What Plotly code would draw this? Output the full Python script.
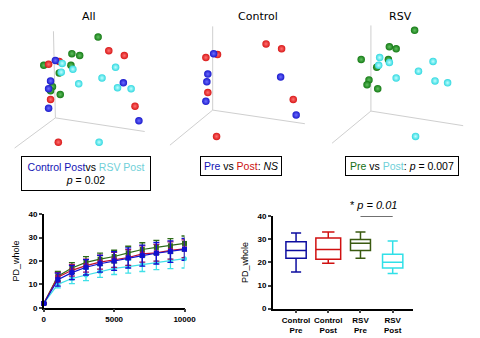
import plotly.graph_objects as go

W, H = 480, 338

# ---------- PCoA projected coordinates (panel-local units) ----------
all_green_x = [99, 72, 80, 43, 71, 59, 52, 50, 60]
all_green_y = [34, 51, 53, 63, 63, 71, 85, 89, 93]
all_red_x = [110, 126, 48, 59, 50, 137, 58]
all_red_y = [48, 53, 62, 59, 98, 105, 142]
all_blue_x = [55, 50, 48, 48, 125, 141]
all_blue_y = [58, 79, 87, 107, 81, 120]
all_cyan_x = [62, 73, 61, 117, 103, 79, 119, 133, 100]
all_cyan_y = [61, 67, 70, 65, 76, 82, 86, 87, 142]

ctl_red_x = [112, 128, 50, 62, 52, 140, 61]
ctl_red_y = [41, 46, 55, 52, 91, 98, 136]
ctl_blue_x = [58, 52, 51, 50, 127, 143]
ctl_blue_y = [51, 72, 80, 100, 75, 114]

rsv_green_x = [105, 79, 86, 50, 78, 66, 58, 56, 67]
rsv_green_y = [27, 44, 46, 57, 57, 65, 78, 83, 87]
rsv_cyan_x = [69, 79, 68, 124, 109, 86, 126, 139, 106]
rsv_cyan_y = [55, 60, 63, 59, 69, 76, 79, 81, 136]

panel_titles = ["All", "Control", "RSV"]

# ---------- rarefaction curves ----------
depth = [0, 1000, 2000, 3000, 4000, 5000, 6000, 7000, 8000, 9000, 10000]
rsv_pre = [1.8, 13.5, 17.0, 19.4, 20.8, 21.9, 23.5, 24.9, 25.8, 26.5, 27.5]
rsv_pre_err = [0.3, 2.0, 2.3, 2.5, 2.6, 2.7, 2.8, 2.9, 3.0, 3.1, 3.2]
ctl_post = [1.8, 13.0, 16.0, 18.0, 19.5, 20.5, 21.5, 23.0, 23.5, 24.5, 25.2]
ctl_post_err = [0.3, 2.0, 2.5, 2.8, 3.0, 3.2, 3.4, 3.5, 3.6, 3.7, 3.8]
ctl_pre = [1.8, 12.0, 15.0, 17.3, 18.8, 20.0, 21.3, 22.3, 23.3, 24.0, 25.0]
ctl_pre_err = [0.3, 2.8, 3.0, 3.3, 3.6, 4.0, 4.3, 4.5, 4.6, 4.6, 4.7]
rsv_post = [1.8, 10.0, 12.5, 14.0, 15.5, 16.8, 17.6, 18.5, 19.5, 20.3, 21.0]
rsv_post_err = [0.3, 1.5, 2.2, 2.4, 2.5, 2.6, 2.8, 3.0, 3.2, 3.6, 4.0]
line_xticks = [0, 5000, 10000]
line_xtext = ["0", "5000", "10000"]

# ---------- box plot summary ----------
box_cats = ["Control<br>Pre", "Control<br>Post", "RSV<br>Pre", "RSV<br>Post"]
box_low = [15.9, 19.7, 21.8, 15.2]
box_q1 = [21.8, 21.4, 25.2, 17.6]
box_med = [25.2, 25.6, 28.3, 20.1]
box_q3 = [28.9, 30.6, 29.9, 23.5]
box_high = [32.7, 33.2, 33.2, 29.3]
yticks = [0, 10, 20, 30, 40]

BLUE, RED, GREEN, CYAN = "#1a1acc", "#d81818", "#157a15", "#30d8e0"

fig = go.Figure()

def sphere(x, y, color, light, ax):
    fig.add_trace(go.Scatter(
        x=x, y=y, mode="markers", xaxis="x" + ax, yaxis="y" + ax,
        marker=dict(size=7.5, color=color,
                    gradient=dict(type="radial", color=light),
                    line=dict(width=0)),
        showlegend=False, hoverinfo="skip", cliponaxis=False))

sphere(all_green_x, all_green_y, GREEN, "#60c060", "1")
sphere(all_red_x, all_red_y, RED, "#ff7070", "1")
sphere(all_blue_x, all_blue_y, BLUE, "#6c6cff", "1")
sphere(all_cyan_x, all_cyan_y, CYAN, "#c0ffff", "1")
sphere(ctl_red_x, ctl_red_y, RED, "#ff7070", "2")
sphere(ctl_blue_x, ctl_blue_y, BLUE, "#6c6cff", "2")
sphere(rsv_green_x, rsv_green_y, GREEN, "#60c060", "3")
sphere(rsv_cyan_x, rsv_cyan_y, CYAN, "#c0ffff", "3")

# rarefaction lines
def curve(y, err, color, lcolor, sym):
    fig.add_trace(go.Scatter(
        x=depth, y=y, mode="lines+markers", xaxis="x4", yaxis="y4",
        line=dict(color=lcolor, width=1.2),
        marker=dict(color=color, size=5, symbol=sym),
        error_y=dict(type="data", array=err, color=color, thickness=1.3, width=3),
        showlegend=False, cliponaxis=False))

curve(rsv_post, rsv_post_err, "#40e0e8", "#40e0e8", "circle")
curve(rsv_pre, rsv_pre_err, "#2e6b1a", "#2e6b1a", "square")
curve(ctl_post, ctl_post_err, "#9a1060", "#c01030", "square")
curve(ctl_pre, ctl_pre_err, "#1010d0", "#1010d0", "square")

# box plot
box_colors = ["#0d0da0", "#d01010", "#3a5a10", "#30e0e8"]
box_widths = [0.63, 0.77, 0.62, 0.63]
for i, c in enumerate(box_cats):
    fig.add_trace(go.Box(
        x=[c], q1=[box_q1[i]], median=[box_med[i]], q3=[box_q3[i]],
        lowerfence=[box_low[i]], upperfence=[box_high[i]],
        xaxis="x5", yaxis="y5", line=dict(color=box_colors[i], width=1.5),
        fillcolor="white", width=box_widths[i], whiskerwidth=0.5,
        boxpoints=False, showlegend=False))

hidden = dict(visible=False, showgrid=False, zeroline=False)
layout = dict(width=W, height=H, margin=dict(l=0, r=0, t=0, b=0),
              paper_bgcolor="white", plot_bgcolor="rgba(0,0,0,0)",
              font=dict(family="DejaVu Sans", color="black"))
for k, (x0, x1) in enumerate([(0, 160), (160, 320), (320, 480)], start=1):
    sfx = "" if k == 1 else str(k)
    layout["xaxis" + sfx] = dict(hidden, domain=[x0 / W, x1 / W], range=[0, 160])
    layout["yaxis" + sfx] = dict(hidden, domain=[1 - 150 / H, 1], range=[150, 0],
                                 anchor="x" + sfx)

tickfont = dict(family="Liberation Sans", size=8, weight="bold", color="black")
ytitle = dict(text="PD_whole", font=dict(size=9, family="Liberation Sans"), standoff=7)
layout["xaxis4"] = dict(domain=[43 / W, 188 / W], range=[0, 10000], anchor="y4",
                        tickvals=line_xticks, ticktext=line_xtext,
                        ticks="outside", ticklen=3,
                        showline=True, linecolor="black", linewidth=1.5,
                        tickwidth=1.5, showgrid=False, zeroline=False,
                        tickfont=tickfont)
layout["yaxis4"] = dict(domain=[1 - 312 / H, 1 - 216 / H], range=[0, 40], anchor="x4",
                        tickvals=yticks, ticks="outside", ticklen=3,
                        showline=True, linecolor="black", linewidth=1.5,
                        tickwidth=1.5, showgrid=False, zeroline=False,
                        tickfont=tickfont, title=ytitle)
layout["xaxis5"] = dict(domain=[279 / W, 423 / W], range=[-0.72, 3.62], anchor="y5",
                        type="category", ticks="outside", ticklen=3,
                        showline=True, linecolor="black", linewidth=1.5,
                        tickwidth=1.5, showgrid=False, zeroline=False,
                        tickfont=dict(family="Liberation Sans", size=8, weight="bold"))
layout["yaxis5"] = dict(domain=[1 - 313 / H, 1 - 218 / H], range=[0, 40], anchor="x5",
                        tickvals=yticks, ticks="outside", ticklen=3,
                        showline=True, linecolor="black", linewidth=1.5,
                        tickwidth=1.5, showgrid=False, zeroline=False,
                        tickfont=tickfont, title=ytitle)
fig.update_layout(**layout)

# 3D frame lines for the PCoA panels
frames = {"": [(53, 28, 55, 117), (55, 117, 147, 131), (55, 117, 13, 148)],
          "2": [(57, 23, 57, 109), (57, 109, 152, 123), (57, 109, 13, 145)],
          "3": [(60, 22, 60, 110), (60, 110, 155, 125), (60, 110, 20, 143)]}
for sfx, segs in frames.items():
    for (a, b, c, d) in segs:
        fig.add_shape(type="line", xref="x" + sfx, yref="y" + sfx,
                      x0=a, y0=b, x1=c, y1=d, layer="below",
                      line=dict(color="#cfcfcf", width=1))

# panel titles
for sfx, t, xc in [("", panel_titles[0], 90), ("2", panel_titles[1], 104), ("3", panel_titles[2], 90)]:
    fig.add_annotation(text=t, xref="x" + sfx, yref="y" + sfx, x=xc, y=13,
                       showarrow=False, font=dict(size=11, family="DejaVu Sans"))

B = "#1414b4"; R = "#cc1010"; G = "#157015"; C = "#70d0d8"
afont = dict(size=10.5, family="Liberation Sans", color="black")
common = dict(xref="paper", yref="paper", showarrow=False, xanchor="center",
              yanchor="middle", bordercolor="black", borderwidth=1,
              bgcolor="white", font=afont, borderpad=0)
fig.add_annotation(
    text=f"<span style='color:{B}'>Control Post</span>vs<span style='color:{C}'> RSV Post</span>"
         f"<br><i>p</i> = 0.02",
    x=87 / W, y=1 - 174.5 / H, width=128, height=33, **common)
fig.add_annotation(
    text=f"<span style='color:{B}'>Pre</span> vs <span style='color:{R}'>Post</span>: <i>NS</i>",
    x=246 / W, y=1 - 166 / H, width=80, height=18, **common)
fig.add_annotation(
    text=f"<span style='color:{G}'>Pre</span> vs <span style='color:{C}'>Post</span>: <i>p</i> = 0.007",
    x=412 / W, y=1 - 166.5 / H, width=112, height=18, **common)

# significance bar
fig.add_shape(type="line", xref="x5", yref="y5", x0=2, x1=3, y0=40, y1=40,
              line=dict(color="black", width=1.2))
fig.add_annotation(text="* <i>p = 0.01</i>", xref="paper", yref="paper",
                   x=383 / W, y=1 - 206 / H, showarrow=False, xanchor="center",
                   yanchor="middle", font=dict(size=11, family="Liberation Sans"))

fig.write_html("out.html")
